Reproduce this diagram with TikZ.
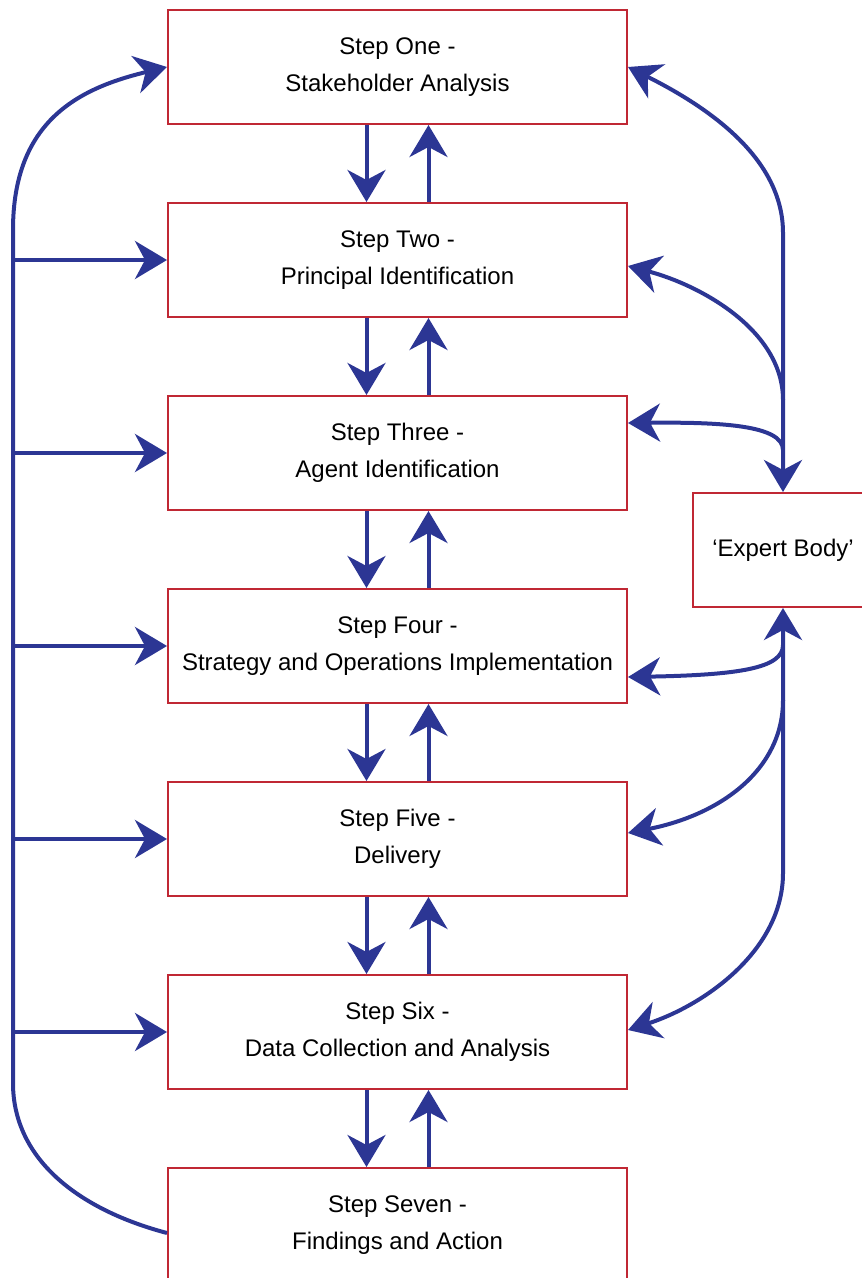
\documentclass[tikz,border=0pt]{standalone}
\usepackage{fontspec}
\setmainfont{Liberation Sans}
\usetikzlibrary{arrows.meta}
\definecolor{flowblue}{RGB}{44,54,148}
\definecolor{boxred}{RGB}{192,40,52}
\tikzset{
  stepbox/.style={draw=boxred, line width=1pt, minimum width=229.5pt, minimum height=57pt,
    inner sep=0pt, align=center, font=\fontsize{12}{18.5}\selectfont},
  flow/.style={draw=flowblue, line width=2pt},
  >={Stealth[length=16pt,width=19pt,inset=5pt]}
}
\begin{document}
\begin{tikzpicture}[x=0.5pt,y=-0.5pt]

    \useasboundingbox (0,0) rectangle (861,1278);

    \node[stepbox] (s1) at (397.5,67) {Step One -\\Stakeholder Analysis};
    \node[stepbox] (s2) at (397.5,260) {Step Two -\\Principal Identification};
    \node[stepbox] (s3) at (397.5,453) {Step Three -\\Agent Identification};
    \node[stepbox] (s4) at (397.5,646) {Step Four -\\Strategy and Operations Implementation};
    \node[stepbox] (s5) at (397.5,839) {Step Five -\\Delivery};
    \node[stepbox] (s6) at (397.5,1032) {Step Six -\\Data Collection and Analysis};
    \node[stepbox] (s7) at (397.5,1225) {Step Seven -\\Findings and Action};
    \node[stepbox, minimum width=90pt] (exp) at (783,550) {‘Expert Body’};

    \coordinate (lbus) at (13,0);


    \draw[flow,->] ([xshift=-15.5pt]s1.south) -- ([xshift=-15.5pt]s2.north);
    \draw[flow,->] ([xshift=15.5pt]s2.north) -- ([xshift=15.5pt]s1.south);
    \draw[flow,->] ([xshift=-15.5pt]s2.south) -- ([xshift=-15.5pt]s3.north);
    \draw[flow,->] ([xshift=15.5pt]s3.north) -- ([xshift=15.5pt]s2.south);
    \draw[flow,->] ([xshift=-15.5pt]s3.south) -- ([xshift=-15.5pt]s4.north);
    \draw[flow,->] ([xshift=15.5pt]s4.north) -- ([xshift=15.5pt]s3.south);
    \draw[flow,->] ([xshift=-15.5pt]s4.south) -- ([xshift=-15.5pt]s5.north);
    \draw[flow,->] ([xshift=15.5pt]s5.north) -- ([xshift=15.5pt]s4.south);
    \draw[flow,->] ([xshift=-15.5pt]s5.south) -- ([xshift=-15.5pt]s6.north);
    \draw[flow,->] ([xshift=15.5pt]s6.north) -- ([xshift=15.5pt]s5.south);
    \draw[flow,->] ([xshift=-15.5pt]s6.south) -- ([xshift=-15.5pt]s7.north);
    \draw[flow,->] ([xshift=15.5pt]s7.north) -- ([xshift=15.5pt]s6.south);


    \draw[flow,->] ([yshift=-4pt]s7.west) .. controls (80,1210) and (13,1160) .. (13,1083)
        -- (13,230) .. controls (13,120) and (80,88) .. (s1.west);
    \draw[flow,->] (s2.west -| lbus) -- (s2.west);
    \draw[flow,->] (s3.west -| lbus) -- (s3.west);
    \draw[flow,->] (s4.west -| lbus) -- (s4.west);
    \draw[flow,->] (s5.west -| lbus) -- (s5.west);
    \draw[flow,->] (s6.west -| lbus) -- (s6.west);


    \draw[flow,<->] (s1.east) .. controls (718,112) and (783,163) .. (783,233) -- (exp.north);
    \draw[flow,->] (783,400) .. controls (783,330) and (700,285) .. ([yshift=-3pt]s2.east);
    \draw[flow,->] (783,450) .. controls (783,425) and (720,422) .. ([yshift=15pt]s3.east);
    \draw[flow,<->] (exp.south) -- (783,873) .. controls (783,950) and (705,1005) .. ([yshift=1pt]s6.east);
    \draw[flow,->] (783,645) .. controls (783,668) and (740,675) .. ([yshift=-15.5pt]s4.east);
    \draw[flow,->] (783,700) .. controls (783,770) and (720,815) .. ([yshift=3pt]s5.east);

\end{tikzpicture}
\end{document}
